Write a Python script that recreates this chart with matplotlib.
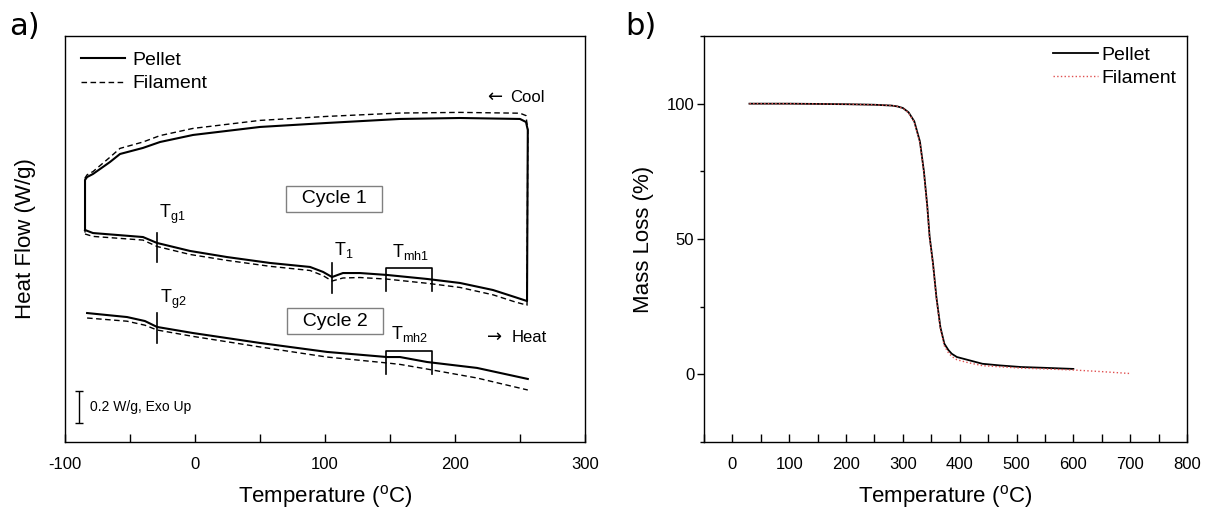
"""DSC (a) and TGA (b) of pellet vs filament."""

import matplotlib
matplotlib.use("Agg")
import matplotlib.pyplot as plt
import numpy as np
from matplotlib.ticker import MultipleLocator, NullLocator

plt.rcParams["font.family"] = ["Liberation Sans", "DejaVu Sans"]
plt.rcParams["mathtext.fontset"] = "custom"
plt.rcParams["mathtext.rm"] = "Liberation Sans"
plt.rcParams["mathtext.it"] = "Liberation Sans"
plt.rcParams["axes.unicode_minus"] = False

# ---- DSC data (W/g, offset for display) ----
heat1_T = [-84.6, -78.5, -40, -29.2, -3.8, 24.6, 57.7, 88.5, 98.5, 105.4, 113.8,
           126.9, 147.7, 178.5, 203.8, 229.2, 246, 255.4]
heat1_pellet = [1.325, 1.306, 1.281, 1.244, 1.194, 1.156, 1.119, 1.094, 1.063, 1.031, 1.056,
                1.056, 1.044, 1.019, 0.994, 0.950, 0.906, 0.881]
heat1_filament = [1.300, 1.285, 1.262, 1.222, 1.172, 1.135, 1.098, 1.072, 1.040, 1.006, 1.025,
                  1.028, 1.018, 0.992, 0.966, 0.920, 0.876, 0.855]

cool1_T = [256, 254.6, 250, 203.8, 157.7, 101.5, 50, -1.5, -26.9, -40, -57.7, -65.4,
           -78.5, -83, -84.6]
cool1_pellet = [1.95, 2.000, 2.019, 2.025, 2.019, 1.994, 1.969, 1.919, 1.875, 1.838, 1.800,
                1.750, 1.675, 1.656, 1.638]
cool1_filament = [1.95, 2.040, 2.055, 2.060, 2.056, 2.035, 2.010, 1.960, 1.915, 1.875, 1.835,
                  1.780, 1.690, 1.670, 1.650]

heat2_T = [-83, -52.3, -38.5, -29.2, -1.5, 50, 101.5, 147.7, 157.7, 178.5, 216.9, 256]
heat2_pellet = [0.806, 0.781, 0.756, 0.719, 0.681, 0.619, 0.563, 0.531, 0.531, 0.500, 0.463, 0.394]
heat2_filament = [0.775, 0.755, 0.730, 0.700, 0.660, 0.594, 0.531, 0.494, 0.485, 0.456, 0.400, 0.325]

# transition marks
tg_T = -29.2
t1_T = 105.4
tmh_range = (146.9, 182.3)

# ---- TGA data (%) ----
tga_pellet_T = [30, 100, 200, 250, 280, 290, 300, 310, 320, 330, 337, 343, 347, 353, 359,
                366, 373, 380, 386, 395, 413, 440, 470, 508, 550, 600]
tga_pellet = [100, 100, 99.8, 99.6, 99.3, 99.0, 98.4, 96.8, 93.5, 86, 75, 62, 51, 41, 28.5,
              17.4, 11.3, 9.0, 7.6, 6.4, 5.4, 3.9, 3.3, 2.7, 2.4, 2.0]
tga_filament_T = [30, 100, 200, 250, 280, 290, 300, 310, 320, 330, 337, 343, 347, 353, 359,
                  366, 373, 380, 386, 395, 413, 440, 470, 508, 550, 600, 650, 700]
tga_filament = [100, 100, 99.8, 99.6, 99.3, 99.0, 98.3, 96.6, 93.2, 85.5, 74.5, 61.5, 50.5,
                40.5, 28, 16.8, 10.5, 8.0, 6.6, 5.4, 4.4, 3.2, 2.8, 2.3, 2.0, 1.6, 1.0, 0.3]

W, H = 1208, 513
fig = plt.figure(figsize=(W / 100, H / 100), dpi=100)
ax1 = fig.add_axes([65 / W, (H - 442) / H, 520 / W, 406 / H])
ax2 = fig.add_axes([704 / W, (H - 442) / H, 483 / W, 406 / H])

dash = (0, (4, 2.5))

# ---------------- a) DSC ----------------
loop_T = heat1_T + cool1_T + heat1_T[:1]
loop_p = heat1_pellet + cool1_pellet + heat1_pellet[:1]
loop_f = heat1_filament + cool1_filament + heat1_filament[:1]
ax1.plot(loop_T, loop_p, color="black", lw=1.5, label="Pellet")
ax1.plot(loop_T, loop_f, color="black", lw=1.0, ls=dash, label="Filament")
ax1.plot(heat2_T, heat2_pellet, color="black", lw=1.5)
ax1.plot(heat2_T, heat2_filament, color="black", lw=1.0, ls=dash)

mk = dict(color="black", lw=1.2)
ax1.plot([tg_T, tg_T], [1.125, 1.306], **mk)
ax1.plot([t1_T, t1_T], [0.931, 1.119], **mk)
ax1.plot([tmh_range[0], tmh_range[0], tmh_range[1], tmh_range[1]], [0.944, 1.0875, 1.0875, 0.944], **mk)
ax1.plot([tg_T, tg_T], [0.619, 0.806], **mk)
ax1.plot([tmh_range[0], tmh_range[0], tmh_range[1], tmh_range[1]], [0.425, 0.569, 0.569, 0.425], **mk)

fs_t = 13
ax1.text(-17.7, 1.42, r"T$_{\mathregular{g1}}$", fontsize=fs_t, ha="center", va="center")
ax1.text(114.6, 1.20, r"T$_{\mathregular{1}}$", fontsize=fs_t, ha="center", va="center")
ax1.text(166, 1.19, r"T$_{\mathregular{mh1}}$", fontsize=fs_t, ha="center", va="center")
ax1.text(-16.9, 0.894, r"T$_{\mathregular{g2}}$", fontsize=fs_t, ha="center", va="center")
ax1.text(165.4, 0.675, r"T$_{\mathregular{mh2}}$", fontsize=fs_t, ha="center", va="center")

box = dict(boxstyle="square,pad=0.25", facecolor="white", edgecolor="#808080", lw=1)
ax1.text(106.9, 1.519, "  Cycle 1  ", fontsize=14, ha="center", va="center", bbox=box)
ax1.text(107.7, 0.756, "  Cycle 2  ", fontsize=14, ha="center", va="center", bbox=box)

# direction arrows (DejaVu glyph is larger than the Arial-like one)
ax1.text(236.2, 2.156, "\u2190", fontsize=13, family="DejaVu Sans", ha="right", va="center")
ax1.text(242.3, 2.156, "Cool", fontsize=12, ha="left", va="center")
ax1.text(236.2, 0.656, "\u2192", fontsize=13, family="DejaVu Sans", ha="right", va="center")
ax1.text(243.8, 0.656, "Heat", fontsize=12, ha="left", va="center")

# 0.2 W/g scale bar
ax1.errorbar([-89.2], [0.219], yerr=[0.1], color="black", lw=1, capsize=3, capthick=1)
ax1.text(-80.8, 0.219, "0.2 W/g, Exo Up", fontsize=10, ha="left", va="center")

ax1.set_xlim(-100, 300)
ax1.set_ylim(0, 406 / 160)
ax1.xaxis.set_major_locator(MultipleLocator(100))
ax1.xaxis.set_minor_locator(MultipleLocator(50))
ax1.yaxis.set_major_locator(NullLocator())
ax1.tick_params(axis="x", which="both", direction="in", length=6, width=1, labelsize=12, pad=11)
ax1.set_xlabel(r"Temperature ($^{\mathregular{o}}$C)", fontsize=16, labelpad=8)
ax1.set_ylabel("Heat Flow (W/g)", fontsize=16, labelpad=21)
ax1.legend(loc="upper left", bbox_to_anchor=(0.031, 0.962), frameon=False, fontsize=14,
           handlelength=2.26, handletextpad=0.4, labelspacing=0.3, borderpad=0, borderaxespad=0)

# ---------------- b) TGA ----------------
ax2.plot(tga_pellet_T, tga_pellet, color="black", lw=1.3, label="Pellet")
ax2.plot(tga_filament_T, tga_filament, color="#e05050", lw=1.0, ls=":", label="Filament")
ax2.set_xlim(-50, 800)
ax2.set_ylim(-25, 125)
ax2.xaxis.set_major_locator(MultipleLocator(100))
ax2.xaxis.set_minor_locator(MultipleLocator(50))
ax2.yaxis.set_major_locator(MultipleLocator(50))
ax2.yaxis.set_minor_locator(MultipleLocator(25))
ax2.tick_params(axis="x", which="both", direction="in", length=6, width=1, labelsize=12, pad=11)
ax2.tick_params(axis="y", which="major", direction="out", length=5, width=1, labelsize=12, pad=2)
ax2.tick_params(axis="y", which="minor", direction="out", length=3, width=1)
ax2.set_xlabel(r"Temperature ($^{\mathregular{o}}$C)", fontsize=16, labelpad=8)
ax2.set_ylabel("Mass Loss (%)", fontsize=16, labelpad=9)
ax2.legend(loc="upper right", bbox_to_anchor=(0.979, 0.975), frameon=False, fontsize=14,
           handlelength=2.3, handletextpad=0.2, labelspacing=0.3, borderpad=0, borderaxespad=0)

for ax in (ax1, ax2):
    for s in ax.spines.values():
        s.set_linewidth(1.0)

fig.text(9 / W, 1 - 27 / H, "a)", fontsize=22, family="DejaVu Sans", ha="left", va="center")
fig.text(625 / W, 1 - 27 / H, "b)", fontsize=22, family="DejaVu Sans", ha="left", va="center")

fig.savefig("out.png", dpi=100)
